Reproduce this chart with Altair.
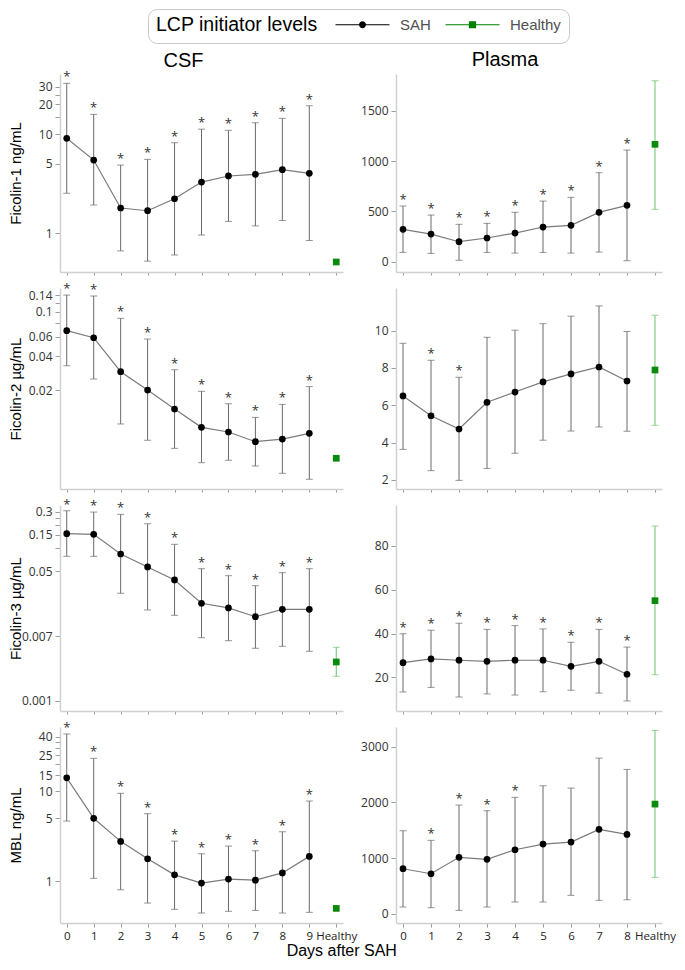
import altair as alt
import pandas as pd

# ---------------- data ----------------
days_csf = ["0", "1", "2", "3", "4", "5", "6", "7", "8", "9"]
days_pl = ["0", "1", "2", "3", "4", "5", "6", "7", "8"]
groups = ["SAH", "Healthy"]

# CSF
f1_csf_mean = [9.05, 5.46, 1.79, 1.68, 2.22, 3.27, 3.77, 3.92, 4.36, 4.01]
f1_csf_lo = [2.52, 1.92, 0.66, 0.52, 0.60, 0.955, 1.31, 1.18, 1.34, 0.84]
f1_csf_hi = [32.5, 15.8, 4.86, 5.55, 8.17, 11.2, 10.9, 13.0, 14.4, 19.3]
f1_csf_star = [1, 1, 1, 1, 1, 1, 1, 1, 1, 1]
f1_csf_healthy = [0.51, None, None]

f2_csf_mean = [0.0678, 0.0587, 0.0293, 0.0201, 0.01365, 0.00938, 0.00853, 0.00699, 0.00738, 0.0083]
f2_csf_lo = [0.0331, 0.0252, 0.01005, 0.0072, 0.0061, 0.00455, 0.00478, 0.00425, 0.00366, 0.00324]
f2_csf_hi = [0.1406, 0.138, 0.0873, 0.0572, 0.0305, 0.0196, 0.0152, 0.0115, 0.0150, 0.0216]
f2_csf_star = [1, 1, 1, 1, 1, 1, 1, 1, 1, 1]
f2_csf_healthy = [0.00498, None, None]

f3_csf_mean = [0.1555, 0.1527, 0.0842, 0.0569, 0.0384, 0.019, 0.0165, 0.01265, 0.0158, 0.0158]
f3_csf_lo = [0.0785, 0.0785, 0.0257, 0.0155, 0.0132, 0.00671, 0.00613, 0.00487, 0.00517, 0.00445]
f3_csf_hi = [0.311, 0.299, 0.279, 0.21, 0.1128, 0.054, 0.0437, 0.0323, 0.0479, 0.054]
f3_csf_star = [1, 1, 1, 1, 1, 1, 1, 1, 1, 1]
f3_csf_healthy = [0.00322, 0.00209, 0.00502]

mbl_csf_mean = [14.0, 4.99, 2.77, 1.78, 1.18, 0.958, 1.06, 1.03, 1.24, 1.89]
mbl_csf_lo = [4.65, 1.08, 0.807, 0.575, 0.49, 0.446, 0.466, 0.477, 0.446, 0.454]
mbl_csf_hi = [42.8, 23.0, 9.43, 5.61, 2.79, 2.02, 2.46, 2.18, 3.54, 7.75]
mbl_csf_star = [1, 1, 1, 1, 1, 1, 1, 1, 1, 1]
mbl_csf_healthy = [0.502, None, None]

# Plasma
f1_pl_mean = [322, 275, 199, 236, 285, 345, 362, 491, 561]
f1_pl_lo = [93, 83, 14, 93, 86, 93, 86, 96, 10]
f1_pl_hi = [554, 464, 372, 381, 491, 603, 640, 885, 1110]
f1_pl_star = [1, 1, 1, 1, 1, 1, 1, 1, 1]
f1_pl_healthy = [1167, 521, 1799]

f2_pl_mean = [6.5, 5.44, 4.73, 6.16, 6.71, 7.25, 7.68, 8.05, 7.30]
f2_pl_lo = [3.64, 2.5, 1.98, 2.62, 3.43, 4.13, 4.62, 4.84, 4.61]
f2_pl_hi = [9.32, 8.41, 7.5, 9.64, 10.02, 10.37, 10.77, 11.32, 9.95]
f2_pl_star = [0, 1, 1, 0, 0, 0, 0, 0, 0]
f2_pl_healthy = [7.89, 4.93, 10.82]

f3_pl_mean = [26.7, 28.4, 27.8, 27.3, 27.8, 27.8, 25.0, 27.3, 21.4]
f3_pl_lo = [13.3, 15.4, 11.0, 12.4, 11.9, 13.4, 14.1, 12.8, 9.2]
f3_pl_hi = [39.9, 41.5, 44.7, 41.9, 43.6, 42.1, 36.0, 41.9, 33.8]
f3_pl_star = [1, 1, 1, 1, 1, 1, 1, 1, 1]
f3_pl_healthy = [55.0, 21.2, 89.1]

mbl_pl_mean = [808, 718, 1013, 977, 1149, 1251, 1287, 1515, 1425]
mbl_pl_lo = [120, 108, 60, 120, 210, 210, 330, 240, 251]
mbl_pl_hi = [1490, 1318, 1952, 1850, 2090, 2298, 2257, 2795, 2592]
mbl_pl_star = [0, 1, 1, 1, 1, 0, 0, 0, 0]
mbl_pl_healthy = [1969, 653, 3292]

# axis tick values / labels
f1_csf_ticks = [1, 5, 10, 15, 20, 25, 30]
f1_csf_labels = [1, 5, 10, 20, 30]
f2_csf_ticks = [0.02, 0.04, 0.06, 0.08, 0.1, 0.12, 0.14]
f2_csf_labels = [0.02, 0.04, 0.06, 0.1, 0.14]
f3_csf_ticks = [0.001, 0.007, 0.05, 0.1, 0.15, 0.2, 0.25, 0.3]
f3_csf_labels = [0.001, 0.007, 0.05, 0.15, 0.3]
mbl_csf_ticks = [1, 5, 10, 15, 20, 25, 30, 35, 40]
mbl_csf_labels = [1, 5, 10, 15, 25, 40]
f1_pl_ticks = [0, 500, 1000, 1500]
f2_pl_ticks = [2, 4, 6, 8, 10]
f3_pl_ticks = [20, 40, 60, 80]
mbl_pl_ticks = [0, 1000, 2000, 3000]

y_titles = ["Ficolin-1 ng/mL", "Ficolin-2 \u00b5g/mL", "Ficolin-3 \u00b5g/mL", "MBL ng/mL"]
col_titles = ["CSF", "Plasma"]

# ---------------- styling ----------------
GRAY_BAR = "#6a6a6a"
GREEN_BAR = "#6cc36c"
GREEN_PT = "#0a8a0a"
LINE_GRAY = "#7a7a7a"
LABEL_FONT = "Open Sans"
TITLE_FONT = "Liberation Sans"

SAH_PATH = "M-9,-0.18H9V0.18H-9Z M1.15,0A1.15,1.15,0,1,1,-1.15,0A1.15,1.15,0,1,1,1.15,0Z"
HEALTHY_PATH = "M-9,-0.18H9V0.18H-9Z M-1.2,-1.2H1.2V1.2H-1.2Z"


def make_df(days, mean, lo, hi, star, healthy):
    rows = []
    for d, m, l, h, s in zip(days, mean, lo, hi, star):
        rows.append({"day": d, "mean": m, "lo": l, "hi": h, "star": s, "grp": "SAH"})
    rows.append({"day": "Healthy", "mean": healthy[0], "lo": healthy[1], "hi": healthy[2],
                 "star": 0, "grp": "Healthy"})
    return pd.DataFrame(rows)


def panel(df, xdomain, ydomain, log, ticks, labels, width, height, ytitle, bottom,
          title=None, title_dx=0, title_offset=0, with_legend=False):
    xscale = alt.Scale(type="point", domain=xdomain, padding=0.25)
    xaxis = alt.Axis(title=None, labels=bottom, labelAngle=0, tickSize=4 if bottom else 3,
                     labelFontSize=11.5, labelColor="#222", labelPadding=3,
                     labelFont=LABEL_FONT, labelOverlap=False)
    yscale = alt.Scale(type="log" if log else "linear", domain=ydomain, nice=False, zero=False)
    ykw = dict(values=ticks, labelOverlap=False, tickSize=5, labelFontSize=12,
               labelColor="#333", labelFont=LABEL_FONT, labelPadding=3)
    if labels is not None:
        ykw["labelExpr"] = ("indexof(%s, datum.value) >= 0 ? toString(datum.value) : ''"
                            % str(labels))
    else:
        ykw["format"] = "d"
    if ytitle:
        yaxis = alt.Axis(title=ytitle, titleFont=TITLE_FONT, titleFontSize=15,
                         titleFontWeight="normal", titleColor="black", titleX=-37, **ykw)
    else:
        yaxis = alt.Axis(title=None, **ykw)

    X = alt.X("day:N", scale=xscale, axis=xaxis)
    col = alt.condition("datum.grp == 'Healthy'", alt.value(GREEN_BAR), alt.value(GRAY_BAR))
    base = alt.Chart(df)

    bars = base.mark_rule(strokeWidth=1).encode(
        x=X, y=alt.Y("lo:Q", scale=yscale, axis=yaxis), y2="hi:Q", color=col)
    cap_lo = base.mark_tick(size=7, thickness=1).encode(
        x=X, y=alt.Y("lo:Q", scale=yscale, axis=yaxis), color=col)
    cap_hi = base.mark_tick(size=7, thickness=1).encode(
        x=X, y=alt.Y("hi:Q", scale=yscale, axis=yaxis), color=col)
    line = base.transform_filter("datum.grp == 'SAH'").mark_line(
        color=LINE_GRAY, strokeWidth=1.2).encode(
        x=X, y=alt.Y("mean:Q", scale=yscale, axis=yaxis))
    pts = base.transform_filter("datum.grp == 'SAH'").mark_circle(
        size=45, color="black", opacity=1).encode(
        x=X, y=alt.Y("mean:Q", scale=yscale, axis=yaxis))
    hpt = base.transform_filter("datum.grp == 'Healthy'").mark_square(
        size=45, color=GREEN_PT, opacity=1).encode(
        x=X, y=alt.Y("mean:Q", scale=yscale, axis=yaxis))
    stars = base.transform_filter("datum.star == 1").mark_text(
        text="*", dy=-6, fontSize=13, color="#333", font=LABEL_FONT).encode(
        x=X, y=alt.Y("hi:Q", scale=yscale, axis=yaxis))

    layers = [bars, cap_lo, cap_hi, line, pts, hpt, stars]

    if with_legend:
        leg_df = pd.DataFrame({"grp": groups, "v": [None, None]})
        leg = alt.Legend(
            title="LCP initiator levels", orient="none", legendX=88, legendY=-65,
            direction="horizontal", titleOrient="left", titleFontSize=19.5,
            titleFont=TITLE_FONT, titleFontWeight="normal", titleColor="black",
            titlePadding=17, labelFontSize=15, labelFont=TITLE_FONT, labelColor="#505050",
            strokeColor="#c8c8c8", fillColor="white", cornerRadius=9, padding=8,
            symbolSize=36, symbolOffset=20, labelOffset=30, columnPadding=14,
            symbolOpacity=1, symbolStrokeWidth=0)
        legend_layer = alt.Chart(leg_df).mark_point(filled=True, opacity=1).encode(
            y=alt.Y("v:Q", scale=yscale, axis=yaxis),
            color=alt.Color("grp:N", scale=alt.Scale(domain=groups, range=["black", "#008000"]),
                            legend=leg),
            shape=alt.Shape("grp:N", scale=alt.Scale(domain=groups, range=[SAH_PATH, HEALTHY_PATH]),
                            legend=leg),
        )
        layers.append(legend_layer)

    props = dict(width=width, height=height)
    if title:
        props["title"] = alt.Title(title, font=TITLE_FONT, fontSize=20, fontWeight="normal",
                                   color="black", anchor="middle", frame="group",
                                   dx=title_dx, offset=title_offset)
    return alt.layer(*layers).properties(**props)


heights = [198, 201, 206, 196]
W_CSF, W_PL = 283, 266
xdom_csf = days_csf + ["Healthy"]
xdom_pl = days_pl + ["Healthy"]

csf_rows = [
    (make_df(days_csf, f1_csf_mean, f1_csf_lo, f1_csf_hi, f1_csf_star, f1_csf_healthy),
     [0.404, 40.4], f1_csf_ticks, f1_csf_labels),
    (make_df(days_csf, f2_csf_mean, f2_csf_lo, f2_csf_hi, f2_csf_star, f2_csf_healthy),
     [0.002655, 0.1625], f2_csf_ticks, f2_csf_labels),
    (make_df(days_csf, f3_csf_mean, f3_csf_lo, f3_csf_hi, f3_csf_star, f3_csf_healthy),
     [0.000732, 0.370], f3_csf_ticks, f3_csf_labels),
    (make_df(days_csf, mbl_csf_mean, mbl_csf_lo, mbl_csf_hi, mbl_csf_star, mbl_csf_healthy),
     [0.346, 51.1], mbl_csf_ticks, mbl_csf_labels),
]
pl_rows = [
    (make_df(days_pl, f1_pl_mean, f1_pl_lo, f1_pl_hi, f1_pl_star, f1_pl_healthy),
     [-102, 1866], f1_pl_ticks),
    (make_df(days_pl, f2_pl_mean, f2_pl_lo, f2_pl_hi, f2_pl_star, f2_pl_healthy),
     [1.518, 12.28], f2_pl_ticks),
    (make_df(days_pl, f3_pl_mean, f3_pl_lo, f3_pl_hi, f3_pl_star, f3_pl_healthy),
     [4.61, 98.7], f3_pl_ticks),
    (make_df(days_pl, mbl_pl_mean, mbl_pl_lo, mbl_pl_hi, mbl_pl_star, mbl_pl_healthy),
     [-167, 3354], mbl_pl_ticks),
]

panels = []
for i in range(4):
    df_c, dom_c, t_c, l_c = csf_rows[i]
    df_p, dom_p, t_p = pl_rows[i]
    bottom = i == 3
    panels.append(panel(df_c, xdom_csf, dom_c, True, t_c, l_c, W_CSF, heights[i], y_titles[i],
                        bottom, title=col_titles[0] if i == 0 else None, title_dx=-18,
                        title_offset=0, with_legend=(i == 0)))
    panels.append(panel(df_p, xdom_pl, dom_p, False, t_p, None, W_PL, heights[i], None,
                        bottom, title=col_titles[1] if i == 0 else None, title_dx=-24,
                        title_offset=4))

chart = alt.concat(
    *panels, columns=2, bounds="flush", align="each",
    spacing=alt.RowColnumber(row=16, column=53),
    title=alt.Title("Days after SAH", orient="bottom", anchor="middle", font=TITLE_FONT,
                    fontSize=16, fontWeight="normal", color="black", offset=1),
).properties(
    padding={"left": 0, "top": 0, "right": 0, "bottom": 0}
).configure_view(stroke=None).configure_axis(
    grid=False, domainColor="#d0d0d0", domainWidth=1.5, tickColor="#9a9a9a"
)

chart.save("out.html", embed_options={"renderer": "svg", "actions": False})
